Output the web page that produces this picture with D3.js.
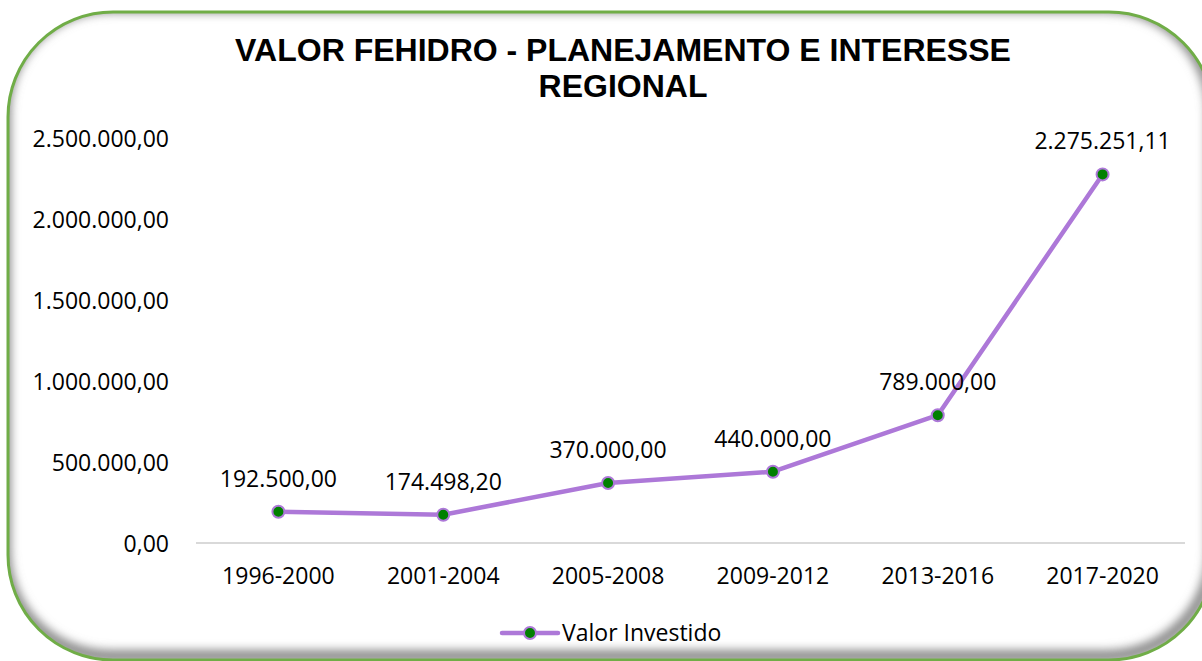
<!DOCTYPE html>
<html><head><meta charset="utf-8">
<script src="https://cdn.jsdelivr.net/npm/d3@7"></script>
<style>body{margin:0;background:#fff}svg{display:block}</style>
</head><body>
<script>
const categories = ["1996-2000","2001-2004","2005-2008","2009-2012","2013-2016","2017-2020"];
const values = [192500.00, 174498.20, 370000.00, 440000.00, 789000.00, 2275251.11];
const yTicks = [0, 500000, 1000000, 1500000, 2000000, 2500000];
const seriesName = "Valor Investido";
const titleLines = ["VALOR FEHIDRO - PLANEJAMENTO E INTERESSE", "REGIONAL"];

const W = 1202, H = 661;
const svg = d3.select("body").append("svg").attr("width", W).attr("height", H);
const defs = svg.append("defs");

const fmt = v => {
  const s = v.toFixed(2).split(".");
  return s[0].replace(/\B(?=(\d{3})+(?!\d))/g, ".") + "," + s[1];
};

// frame
const fx = 8, fy = 12, fw = 1206, fh = 648, fr = 105;
defs.append("clipPath").attr("id","frameClip").append("rect")
  .attr("x",fx).attr("y",fy).attr("width",fw).attr("height",fh).attr("rx",fr).attr("ry",fr);
const f = defs.append("filter").attr("id","blur").attr("x","-10%").attr("y","-10%").attr("width","120%").attr("height","120%");
f.append("feGaussianBlur").attr("stdDeviation",5);
svg.append("rect").attr("x",fx).attr("y",fy).attr("width",fw).attr("height",fh).attr("rx",fr).attr("ry",fr).attr("fill","#fff");
svg.append("g").attr("clip-path","url(#frameClip)")
  .append("rect").attr("x",fx-3).attr("y",fy-5).attr("width",fw+1).attr("height",fh+1).attr("rx",fr).attr("ry",fr)
  .attr("fill","none").attr("stroke","#8a8a8a").attr("stroke-width",12).attr("filter","url(#blur)");
svg.append("rect").attr("x",fx).attr("y",fy).attr("width",fw).attr("height",fh).attr("rx",fr).attr("ry",fr)
  .attr("fill","none").attr("stroke","#70AD47").attr("stroke-width",3);

// title
svg.append("text").attr("x",623).attr("y",61).attr("text-anchor","middle")
  .attr("font-family","Liberation Sans, Arial, sans-serif").attr("font-weight","bold").attr("font-size",32)
  .attr("fill","#000")
  .selectAll("tspan").data(titleLines).join("tspan")
  .attr("x",623).attr("dy",(d,i)=> i ? 36 : 0).text(d=>d);

const x = d3.scaleBand().domain(categories).range([196,1185]);
const y = d3.scaleLinear().domain([0,2500000]).range([543,138]);

const font = "Open Sans, sans-serif";
const fs = 23;

// y axis labels
const yAxis = svg.append("g").attr("transform","translate(169,0)")
  .call(d3.axisLeft(y).tickValues(yTicks).tickFormat(fmt).tickSize(0).tickPadding(0));
yAxis.select(".domain").remove();
yAxis.selectAll("text").attr("font-family",font).attr("font-size",fs).attr("fill","#000").attr("dy","0.35em");

// baseline
svg.append("line").attr("x1",196).attr("x2",1185).attr("y1",y(0)).attr("y2",y(0))
  .attr("stroke","#d9d9d9").attr("stroke-width",2);

// x axis
const xAxis = svg.append("g").attr("transform",`translate(0,${y(0)})`)
  .call(d3.axisBottom(x).tickSize(0).tickPadding(33));
xAxis.select(".domain").remove();
xAxis.selectAll("text").attr("font-family",font).attr("font-size",fs).attr("fill","#000").attr("dy","0.35em");

const cx = d => x(d) + x.bandwidth()/2;
const pts = categories.map((c,i)=>({c, v: values[i]}));

const lineColor = "#AD78D8";
svg.append("path").datum(pts)
  .attr("d", d3.line().x(d=>cx(d.c)).y(d=>y(d.v)))
  .attr("fill","none").attr("stroke",lineColor).attr("stroke-width",4.5).attr("stroke-linejoin","round");

svg.selectAll("circle.pt").data(pts).join("circle").attr("class","pt")
  .attr("cx",d=>cx(d.c)).attr("cy",d=>y(d.v)).attr("r",6)
  .attr("fill","#008000").attr("stroke",lineColor).attr("stroke-width",2);

svg.selectAll("text.lbl").data(pts).join("text").attr("class","lbl")
  .attr("x",d=>cx(d.c)).attr("y",d=>y(d.v)-25).attr("text-anchor","middle")
  .attr("font-family",font).attr("font-size",fs).attr("fill","#000").text(d=>fmt(d.v));

// legend
const lg = svg.append("g");
lg.append("line").attr("x1",502).attr("x2",558).attr("y1",633).attr("y2",633)
  .attr("stroke",lineColor).attr("stroke-width",4.5).attr("stroke-linecap","round");
lg.append("circle").attr("cx",530).attr("cy",633).attr("r",6)
  .attr("fill","#008000").attr("stroke",lineColor).attr("stroke-width",2);
lg.append("text").attr("x",562).attr("y",641).attr("font-family",font).attr("font-size",fs)
  .attr("fill","#000").text(seriesName);
</script>
</body></html>
